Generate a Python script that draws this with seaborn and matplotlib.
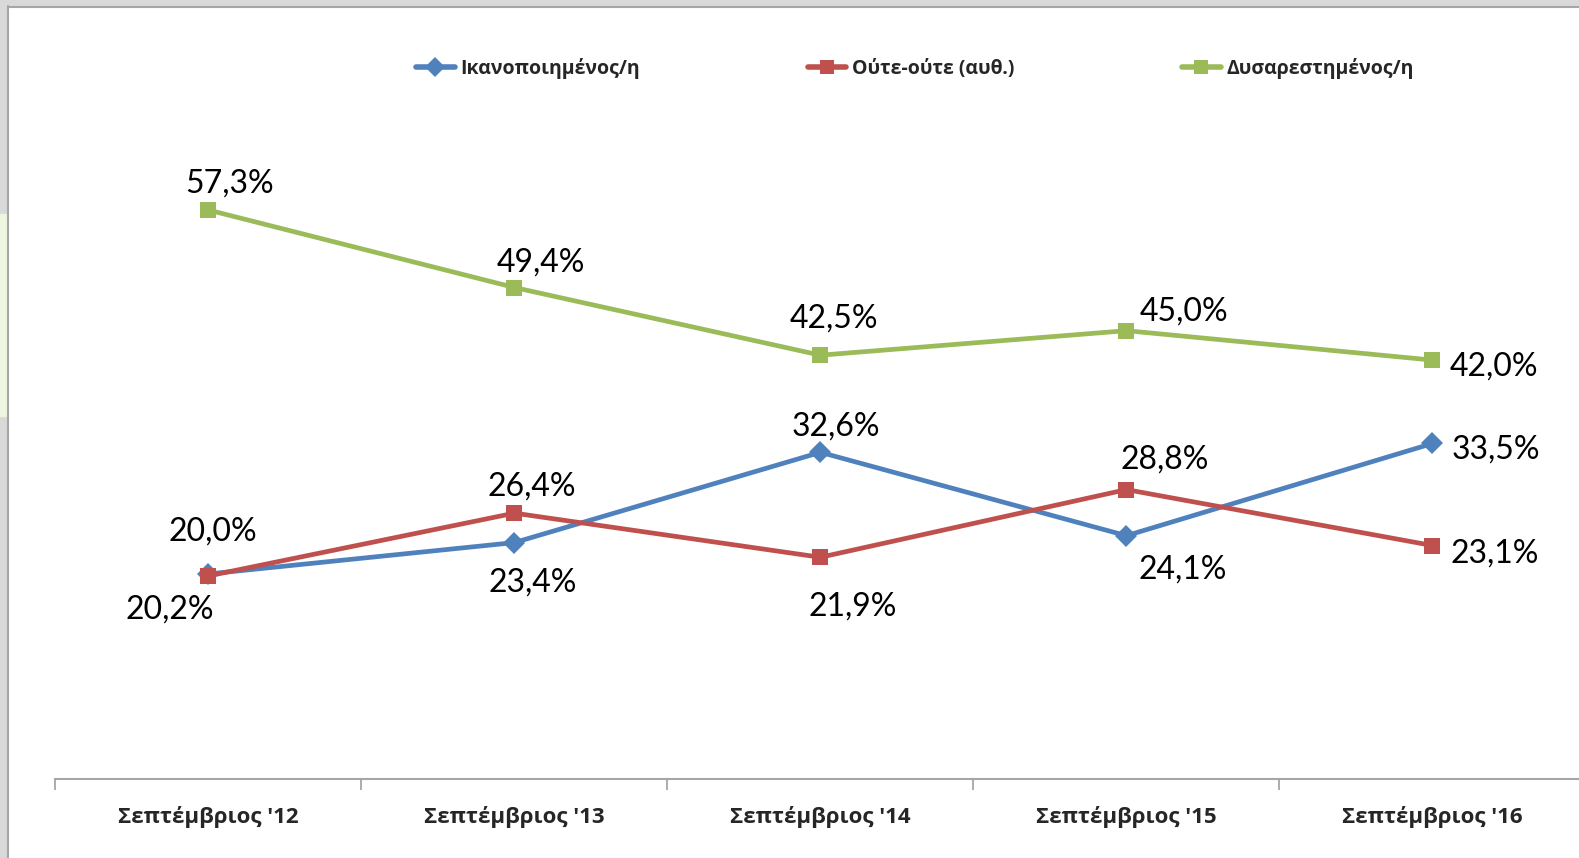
import matplotlib
matplotlib.use("Agg")
import matplotlib.pyplot as plt
from matplotlib.patches import Rectangle
from matplotlib.lines import Line2D
import seaborn as sns
import pandas as pd
import numpy as np

categories = ["Σεπτέμβριος '12", "Σεπτέμβριος '13", "Σεπτέμβριος '14", "Σεπτέμβριος '15", "Σεπτέμβριος '16"]
series_names = ["Ικανοποιημένος/η", "Ούτε-ούτε (αυθ.)", "Δυσαρεστημένος/η"]
satisfied = [20.2, 23.4, 32.6, 24.1, 33.5]
neither = [20.0, 26.4, 21.9, 28.8, 23.1]
dissatisfied = [57.3, 49.4, 42.5, 45.0, 42.0]

colors = ["#4F81BD", "#C0504D", "#9BBB59"]
markers = ["D", "s", "s"]
# label offsets in pixels (layout only)
offsets = [
    [(-39, -36), (18, -40), (15, 26), (56, -34), (63, -6)],
    [(4, 44), (17, 27), (32, -49), (38, 30), (62, -8)],
    [(21, 26), (26, 25), (14, 37), (58, 19), (62, -6)],
]

sns.set_theme(style="white")
plt.rcParams['font.family'] = ['Open Sans', 'DejaVu Sans']

fig = plt.figure(figsize=(15.79, 8.58), dpi=100)
W, H = 1579, 858
# frame decorations
fig.patches.append(Rectangle((0, 0), 7 / W, 1, transform=fig.transFigure, color="#D9D9D9", zorder=0))
fig.patches.append(Rectangle((0, 1 - 6 / H), 1, 6 / H, transform=fig.transFigure, color="#D9D9D9", zorder=0))
fig.patches.append(Rectangle((0, 1 - 416 / H), 6 / W, 202 / H, transform=fig.transFigure, color="#EEF5E1", zorder=0))
fig.add_artist(Line2D([7.5 / W, 7.5 / W], [0, 1 - 6 / H], transform=fig.transFigure, color="#A6A6A6", lw=1.5))
fig.add_artist(Line2D([7.5 / W, 1], [1 - 6.5 / H, 1 - 6.5 / H], transform=fig.transFigure, color="#A6A6A6", lw=1.5))

ax = fig.add_axes([55.4 / W, (858 - 778.5) / H, 1530 / W, (778.5 - 91.8) / H])
ax.patch.set_alpha(0)

df = pd.DataFrame({
    "cat": np.tile(np.arange(len(categories)), 3),
    "value": satisfied + neither + dissatisfied,
    "series": np.repeat(series_names, len(categories)),
})

handles = []
for i, (name, vals) in enumerate(zip(series_names, [satisfied, neither, dissatisfied])):
    sub = df[df.series == name]
    sns.lineplot(data=sub, x="cat", y="value", ax=ax, color=colors[i], lw=3.4,
                 marker=markers[i], markersize=11,
                 markeredgewidth=0, legend=False, zorder=3 + (i == 1))
    for j, v in enumerate(vals):
        ax.annotate(f"{v:.1f}%".replace(".", ","), (j, v), xytext=offsets[i][j],
                    textcoords="offset pixels", ha="center", va="center",
                    fontsize=23, family="Lato", color="black")
    handles.append(Line2D([], [], color=colors[i], lw=4, marker=markers[i], markersize=10, markeredgewidth=0))

ax.set_xlim(-0.5, 4.5)
ax.set_ylim(-0.65, 69.35)
ax.set_xticks(range(len(categories)))
ax.set_xticklabels(categories, fontsize=16, fontweight="bold")
ax.set_xticks(np.arange(-0.5, 5, 1), minor=True)
ax.tick_params(axis="x", which="major", length=0, pad=20, bottom=True)
ax.tick_params(axis="x", which="minor", length=8, width=1.3, color="#A6A6A6", direction="out", bottom=True)
ax.set_yticks([])
ax.set_xlabel("")
ax.set_ylabel("")
for s in ["left", "top", "right"]:
    ax.spines[s].set_visible(False)
ax.spines["bottom"].set_color("#A6A6A6")
ax.spines["bottom"].set_linewidth(1.5)

fig.legend(handles, series_names, loc="center", bbox_to_anchor=(915 / W, 1 - 68.5 / H),
           ncol=3, frameon=False, handlelength=2.0, handletextpad=0.3, columnspacing=8.6,
           prop={"family": "Open Sans", "weight": "bold", "size": 14})

fig.savefig("out.png", dpi=100)
